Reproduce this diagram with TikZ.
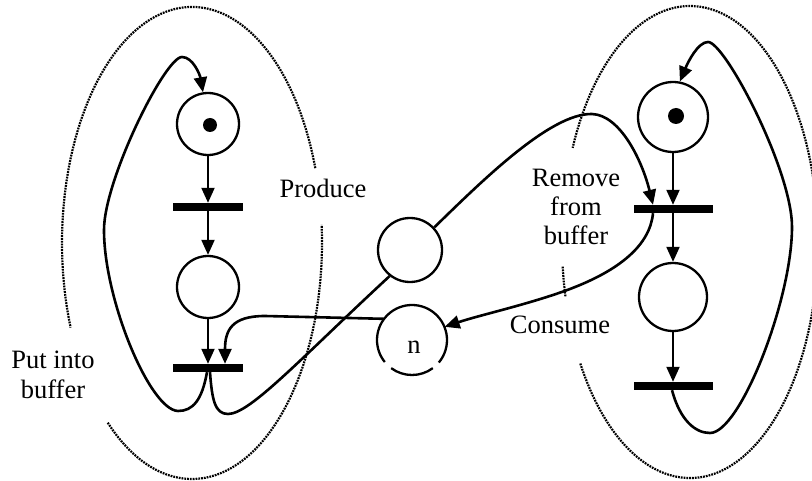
\documentclass[tikz,border=0pt]{standalone}
\usepackage{fontspec}
\setmainfont{Liberation Serif}
\usetikzlibrary{arrows.meta}
\begin{document}
\begin{tikzpicture}[x=1pt,y=-1pt,
  place/.style={circle, draw, line width=2.3pt, inner sep=0pt, minimum size=62pt},
  token/.style={circle, fill=black, inner sep=0pt, minimum size=14pt},
  trans/.style={rectangle, fill=black, inner sep=0pt, minimum width=70pt, minimum height=8pt},
  flow/.style={line width=2.6pt, -{Triangle[length=15pt,width=13pt]}},
  plain/.style={line width=2.6pt},
  hull/.style={line width=2.2pt, dash pattern=on 1.8pt off 1pt},
  lbl/.style={font=\fontsize{26.5}{29}\selectfont, align=center, inner sep=0pt}]
\useasboundingbox (0,0) rectangle (812,481);
\fill[white] (0,0) rectangle (812,481);
\clip (0,0) rectangle (812,481);

% dotted hulls
\draw[hull] (192,243) ++(-18.5:130 and 236) arc[start angle=-18.5, end angle=-201, x radius=130, y radius=236];
\draw[hull] (192,243) ++(-229.6:130 and 236) arc[start angle=-229.6, end angle=-364.4, x radius=130, y radius=236];
\draw[hull] (690,242) ++(10:128 and 236) arc[start angle=10, end angle=-156.5, x radius=128, y radius=236];
\draw[hull] (690,242) ++(-186:128 and 236) arc[start angle=-186, end angle=-193.5, x radius=128, y radius=236];
\draw[hull] (690,242) ++(-211:128 and 236) arc[start angle=-211, end angle=-370, x radius=128, y radius=236];

% producer
\node[place] (p1) at (208,124) {};
\node[token] (k1) at (210,125) {};
\node[trans] (t1) at (208,207) {};
\node[place] (p2) at (208,287) {};
\node[trans] (t2) at (208,368) {};

% buffer
\node[place, minimum size=64pt] (buf) at (410,250) {};
\node[circle, inner sep=0pt, minimum size=70pt] (n) at (412,340) {};
\draw[line width=2.3pt] (412,340) ++(40:35) arc[start angle=40, end angle=-219, radius=35];
\draw[line width=2.3pt] (412,340) ++(-233.5:35) arc[start angle=-233.5, end angle=-306.5, radius=35];
\node[lbl, anchor=base] (nlabel) at (414,353) {n};

% consumer
\node[place, minimum size=70pt] (p3) at (673,117) {};
\node[token, minimum size=16pt] (k3) at (676,116) {};
\node[trans, minimum width=79pt] (t3) at (673,209) {};
\node[place, minimum size=68pt] (p4) at (673,297) {};
\node[trans, minimum width=79pt] (t4) at (673,386) {};

% straight arcs
\draw[flow, line width=2pt] (p1.south) -- (t1.north);
\draw[flow, line width=2pt] (t1.south) -- (p2.north);
\draw[flow, line width=2pt] (p2.south) -- (t2.north);
\draw[flow, line width=2pt] (p3.south) -- (t3.north);
\draw[flow, line width=2pt] (t3.south) -- (p4.north);
\draw[flow, line width=2pt] (p4.south) -- (t4.north);

% producer loop
\draw[flow] ([xshift=-1pt]t2.south) .. controls (202,400) and (193,411) .. (178,411)
  .. controls (150,410) and (104,300) .. (104,230)
  .. controls (104,180) and (165,57) .. (182,57)
  .. controls (193,57) and (200,75) .. (p1.99);

% put into buffer
\draw[plain] ([xshift=2pt]t2.south) .. controls (212,400) and (215,414) .. (228,414)
  .. controls (250,414) and (300,359) .. (buf.232);
\draw[flow] (n.143) -- (265,316) .. controls (232,316) and (225,330) .. ([xshift=17pt]t2.north);

% remove from buffer
\draw[flow] (buf.43) .. controls (480,183) and (550,113) .. (592,114)
  .. controls (620,115) and (642,160) .. ([xshift=-20pt]t3.north);
\draw[flow] ([xshift=-20pt]t3.south) .. controls (650,245) and (620,270) .. (570,289)
  .. controls (530,304) and (480,315) .. (n.22);

% consumer loop
\draw[flow] ([xshift=-1pt]t4.south) .. controls (680,420) and (695,433) .. (710,433)
  .. controls (740,433) and (792,300) .. (792,227)
  .. controls (792,170) and (725,42) .. (708,42)
  .. controls (698,42) and (688,62) .. (p3.79);

% labels
\node[lbl, anchor=base] (produce) at (323,198) {Produce};
\node[lbl, anchor=base] (remove) at (576,245) {Remove\\from\\buffer};
\node[lbl, anchor=base] (consume) at (560,334) {Consume};
\node[lbl, anchor=base] (put) at (53,398) {Put into\\buffer};
\end{tikzpicture}
\end{document}
